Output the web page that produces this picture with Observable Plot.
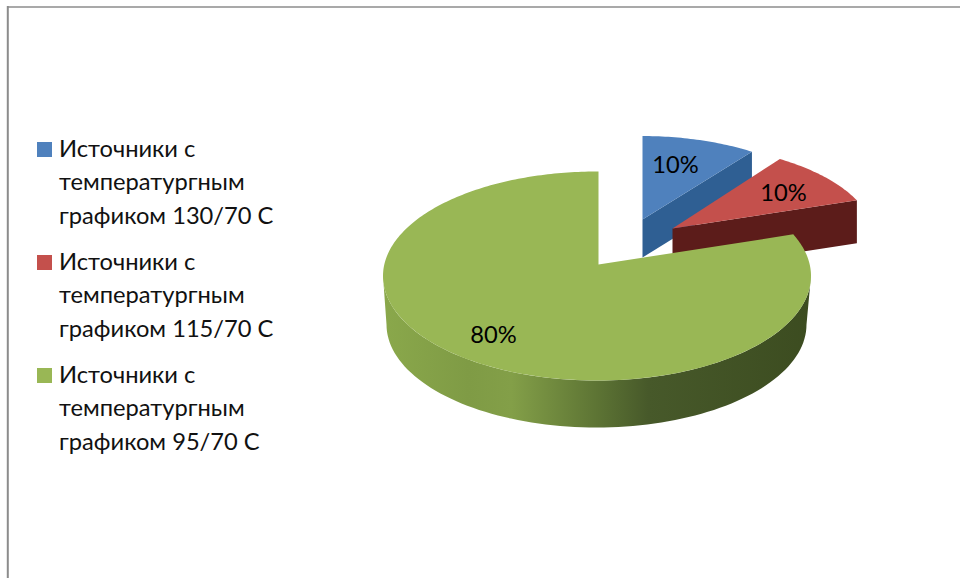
<!DOCTYPE html>
<html><head><meta charset="utf-8">
<script src="https://cdn.jsdelivr.net/npm/d3@7"></script>
<script src="https://cdn.jsdelivr.net/npm/@observablehq/plot@0.6"></script>
<style>html,body{margin:0;background:#fff;overflow:hidden}svg{display:block}</style>
</head><body><div id="chart"></div>
<script>
// data
const seriesNames = ["Источники с температургным графиком 130/70 С","Источники с температургным графиком 115/70 С","Источники с температургным графиком 95/70 С"];
const legendLines = [["Источники с","температургным","графиком 130/70 С"],["Источники с","температургным","графиком 115/70 С"],["Источники с","температургным","графиком 95/70 С"]];
const shares = [10,10,80];
const shareLabels = ["10%","10%","80%"];
const topColors = ["#4f81bd","#c4504c","#99b755"];
const wallColors = ["#2f5f93","#5c1c1a","url(#greenWall)"];

// layout of the tilted pie in the pixel-identity scale
const FONT = "Lato, 'Open Sans', sans-serif";
const apexes = [[642,219],[672,228],[598,264]];
const ellipses = [
  {cx:641,cy:230,rx:200,ry:94.5,k:.45},
  {cx:672,cy:240,rx:203,ry:96,k:.47},
  {cx:596.5,cy:275.5,rx:214,ry:104.5,k:.476}
];
const cutDepth = 38;
const rimBottom = {cx:596,cy:324,rx:210,ry:103};
const labelOffsets = [[33,-54],[111,-35],[-105,71]];
const legendTop = [142,255,368], swatchSize = 15, legendX = 58.5, lineStep = 33.5;

const rad = d => d*Math.PI/180;
function rimPoint(i,deg){ // ray from the apex to the rim of the tilted ellipse
  const [ax,ay]=apexes[i], e=ellipses[i];
  const dx=Math.sin(rad(deg)), dy=-e.k*Math.cos(rad(deg));
  const ox=(ax-e.cx)/e.rx, oy=(ay-e.cy)/e.ry, ux=dx/e.rx, uy=dy/e.ry;
  const A=ux*ux+uy*uy, B=2*(ox*ux+oy*uy), C=ox*ox+oy*oy-1;
  const s=(-B+Math.sqrt(B*B-4*A*C))/(2*A);
  return {x:ax+s*dx,y:ay+s*dy};
}
let acc=0;
const sweeps = shares.map(v=>{const a0=acc*3.6; acc+=v; return [a0,acc*3.6];});
const topFace = i => {
  const [a0,a1]=sweeps[i], pts=[{x:apexes[i][0],y:apexes[i][1]}];
  for(const d of d3.range(a0,a1,1)) pts.push(rimPoint(i,d));
  pts.push(rimPoint(i,a1));
  return pts;
};
const cutFace = (i,depth) => { // the cut wall at the end of the sweep
  const r=rimPoint(i,sweeps[i][1]), [ax,ay]=apexes[i];
  return [{x:ax,y:ay},r,{x:r.x,y:r.y+depth},{x:ax,y:ay+depth}];
};
const ringArc = (e,from,to) => d3.range(from,to+(to>from?1:-1),to>from?2:-2).map(a=>({x:e.cx+e.rx*Math.sin(rad(a)),y:e.cy-e.ry*Math.cos(rad(a))}));
const greenWall = [...ringArc(ellipses[2],90,270),...ringArc(rimBottom,270,90)];

const poly = (pts,fill) => Plot.line(pts,{x:"x",y:"y",fill,stroke:"none",curve:"linear-closed"});
const gradient = () => {
  const stops=[[0,"#8aa84b"],[.2,"#7f9b45"],[.3,"#839f48"],[.5,"#5d7434"],[.62,"#47592a"],[1,"#3c4c20"]];
  const svgNS="http://www.w3.org/2000/svg";
  const defs=document.createElementNS(svgNS,"defs"), g=document.createElementNS(svgNS,"linearGradient");
  g.setAttribute("id","greenWall");
  for(const [o,c] of stops){const s=document.createElementNS(svgNS,"stop");s.setAttribute("offset",o);s.setAttribute("stop-color",c);g.appendChild(s);}
  defs.appendChild(g); return defs;
};

const legendRows = legendLines.flatMap((lines,i)=>lines.map((t,j)=>({t,x:legendX,y:legendTop[i]+14+j*lineStep})));
const legendSwatches = legendTop.map((y,i)=>({x1:37,x2:37+swatchSize,y1:y,y2:y+swatchSize,c:topColors[i],name:seriesNames[i]}));
const pieLabels = shareLabels.map((t,i)=>({t,x:apexes[i][0]+labelOffsets[i][0],y:apexes[i][1]+labelOffsets[i][1]}));

const plot = Plot.plot({
  width:960,height:578,margin:0,
  x:{domain:[0,960],range:[0,960],axis:null},
  y:{domain:[0,578],range:[0,578],axis:null},
  style:{background:"#fff",fontFamily:FONT},
  marks:[
    gradient,
    Plot.ruleY([6.4],{x1:7,x2:960,stroke:"#8c8c8c",strokeWidth:1.5}),
    Plot.ruleX([7.3],{y1:6,y2:578,stroke:"#8c8c8c",strokeWidth:2}),
    poly(cutFace(0,cutDepth),wallColors[0]),
    poly(topFace(0),topColors[0]),
    poly(cutFace(1,cutDepth+5),wallColors[1]),
    poly(topFace(1),topColors[1]),
    poly(greenWall,wallColors[2]),
    poly(topFace(2),topColors[2]),
    Plot.rect(legendSwatches,{x1:"x1",x2:"x2",y1:"y1",y2:"y2",fill:"c",title:"name"}),
    Plot.text(legendRows,{x:"x",y:"y",text:"t",textAnchor:"start",lineAnchor:"bottom",fontSize:23.7,fill:"#111"}),
    Plot.text(pieLabels,{x:"x",y:"y",text:"t",fontSize:23.7,fill:"#000"})
  ]
});
document.getElementById("chart").appendChild(plot);
</script></body></html>
